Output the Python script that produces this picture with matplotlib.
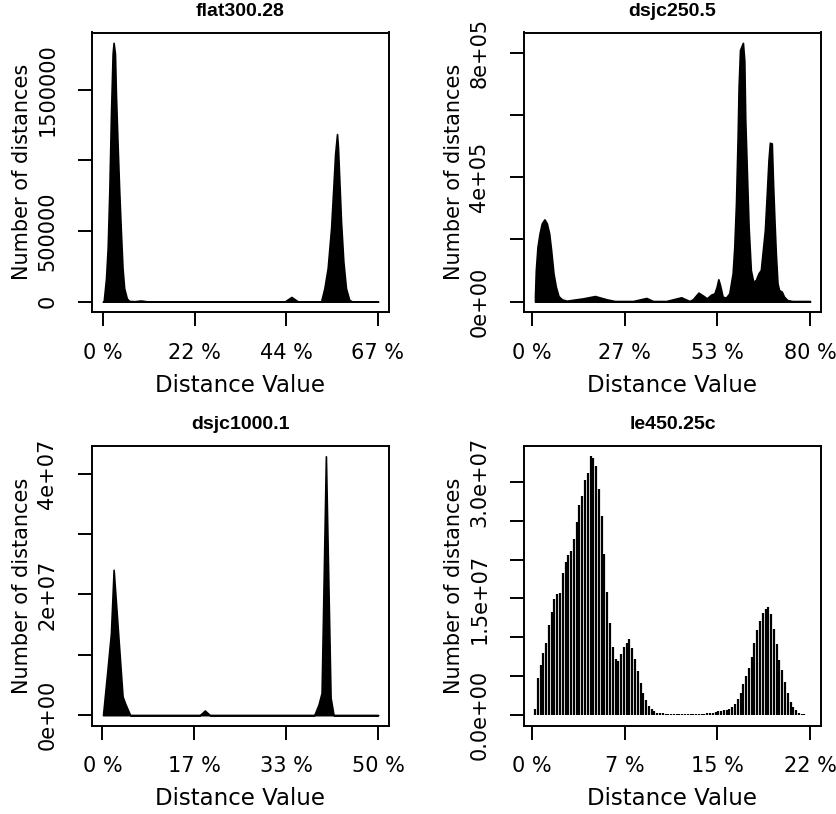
import numpy as np
import matplotlib
matplotlib.use('Agg')
import matplotlib.pyplot as plt

plt.rcParams['font.family'] = 'DejaVu Sans'

# ---- flat300.28 (300 vertices) : distance value -> number of distances
flat_n = 300
flat_d = [0, 0.5, 2.2, 3.4, 4.6, 5.8, 7.0, 7.7, 8.7, 9.4, 10.6, 11.8, 13.0, 14.2,
          15.4, 17.3, 19.0, 23, 27.5, 32, 36, 132, 137, 142, 158.6, 161.0, 163.4,
          165.9, 167.5, 168.8, 169.5, 170.2, 170.9, 171.9, 173.1, 174.8, 176.7,
          179.1, 181.5, 200]
flat_cnt = [0, 0, 166e3, 379e3, 782e3, 1327e3, 1754e3, 1830e3, 1754e3, 1470e3,
            1114e3, 782e3, 498e3, 237e3, 95e3, 23e3, 5e3, 3e3, 8e3, 2e3, 0, 0,
            33e3, 0, 0, 95e3, 237e3, 521e3, 806e3, 1043e3, 1114e3, 1185e3,
            1090e3, 853e3, 569e3, 284e3, 95e3, 12e3, 0, 0]

# ---- dsjc250.5 (250 vertices)
d250_n = 250
d250_d = [2.0, 2.6, 3.8, 5.3, 6.9, 8.8, 10.5, 12.2, 13.6, 15.3, 17.0, 18.9, 21.3,
          24.8, 36.8, 45.2, 53.5, 59.5, 72.6, 82.2, 87.0, 96.5, 107.3, 113.2,
          115.6, 119.7, 122.8, 125.7, 128.8, 131.2, 132.8, 134.0, 135.2, 137.1,
          139.5, 141.9, 144.3, 145.5, 146.7, 147.9, 148.6, 149.6, 150.5, 151.7,
          152.7, 153.4, 154.3, 155.8, 157.4, 159.1, 161.0, 162.9, 164.6, 165.8,
          167.5, 168.9, 170.1, 171.1, 172.5, 173.4, 174.4, 175.4, 176.6, 177.7,
          179.7, 181.3, 183.7, 187.3, 200]
d250_cnt = [20e3, 101.7e3, 176.7e3, 219.6e3, 251.7e3, 264.5e3, 251.7e3, 219.6e3,
            166e3, 91e3, 48e3, 18e3, 7.5e3, 3e3, 10.7e3, 18e3, 7.5e3, 2e3, 2e3,
            11.8e3, 2e3, 2e3, 14e3, 2e3, 7.5e3, 29e3, 20e3, 10.7e3, 22.5e3,
            26.8e3, 48e3, 71.8e3, 53.6e3, 16e3, 12.9e3, 26.8e3, 91e3, 176.7e3,
            316e3, 530e3, 690.8e3, 808.6e3, 819e3, 832e3, 776e3, 583.7e3, 455e3,
            241e3, 101.7e3, 64e3, 69.6e3, 91e3, 101.7e3, 155e3, 230e3, 348e3,
            455e3, 511e3, 508.7e3, 380e3, 262e3, 155e3, 59e3, 37.5e3, 32e3, 16e3,
            5e3, 2e3, 2e3]

# ---- dsjc1000.1 (1000 vertices)
d1000_n = 1000
d1000_d = [1.2, 8.4, 15.6, 20.5, 36.7, 41.5, 50.5, 176.9, 185.9, 195.0, 384.5,
           392.3, 397.7, 405.5, 414.0, 419.4, 500]
d1000_cnt = [0, 6.7e6, 13.6e6, 24.1e6, 3.1e6, 1.9e6, 0, 0, 0.77e6, 0, 0, 1.8e6,
             3.7e6, 42.9e6, 2.9e6, 0, 0]

# ---- le450.25c (450 vertices), one bar per distance 1..100
le_n = 450
le_d = list(range(1, 101))
le_cnt = [0.73, 4.72, 6.40, 7.94, 9.32, 11.59, 13.27, 14.90, 15.54, 15.76,
          18.25, 19.70, 20.65, 21.12, 22.62, 24.77, 27.05, 28.20, 30.27, 31.08,
          33.27, 33.06, 32.07, 29.06, 25.63, 20.78, 15.88, 11.81, 8.76, 7.17,
          6.95, 7.81, 8.76, 9.32, 9.75, 8.67, 7.17, 5.67, 4.08, 2.88,
          1.89, 1.16, 0.73, 0.47, 0.30, 0.25, 0.22, 0.20, 0.18, 0.17,
          0.16, 0.15, 0.14, 0.14, 0.13, 0.13, 0.13, 0.14, 0.15, 0.16,
          0.18, 0.20, 0.22, 0.25, 0.28, 0.39, 0.47, 0.52, 0.60, 0.69,
          0.82, 1.03, 1.46, 2.02, 2.88, 4.04, 5.02, 6.10, 7.47, 9.27,
          10.95, 12.11, 13.18, 13.61, 13.91, 12.96, 11.12, 9.10, 7.13, 5.75,
          4.29, 2.88, 1.72, 1.03, 0.60, 0.30, 0.17, 0.09, 0.04, 0.04]
le_cnt = [v * 1e6 for v in le_cnt]

titles = ['flat300.28', 'dsjc250.5', 'dsjc1000.1', 'le450.25c']
yticks = [[0, 500000, 1000000, 1500000],
          [0, 2e5, 4e5, 6e5, 8e5],
          [0, 1e7, 2e7, 3e7, 4e7],
          [0, 5e6, 1e7, 1.5e7, 2e7, 2.5e7, 3e7]]
ytick_labels = [['0', '500000', '', '1500000'],
                ['0e+00', '', '4e+05', '', '8e+05'],
                ['0e+00', '', '2e+07', '', '4e+07'],
                ['0.0e+00', '', '', '1.5e+07', '', '', '3.0e+07']]

W, H = 837, 814
fig = plt.figure(figsize=(W / 100, H / 100), dpi=100)

# plot boxes in pixels: left, right, top, bottom
boxes = [(92, 389, 32.5, 312), (524, 821, 32.5, 312),
         (92, 389, 446, 725.5), (524, 821, 446, 725.5)]

data = [(flat_n, flat_d, flat_cnt, False),
        (d250_n, d250_d, d250_cnt, False),
        (d1000_n, d1000_d, d1000_cnt, False),
        (le_n, le_d, le_cnt, True)]

for i, (n, d, cnt, bars) in enumerate(data):
    l, r, t, b = boxes[i]
    ax = fig.add_axes([l / W, 1 - b / H, (r - l) / W, (b - t) / H])
    x = np.array(d) / n * 100
    y = np.array(cnt)
    if bars:
        ax.vlines(x, 0, y, color='black', linewidth=1.6)
    else:
        ax.fill_between(x, 0, y, color='black', linewidth=1.2)
    lo, hi = x.min(), x.max()
    pad = 0.04 * (hi - lo)
    ax.set_xlim(lo - pad, hi + pad)
    ymax = y.max()
    ax.set_ylim(-0.04 * ymax, 1.04 * ymax)

    top = max(d) / n * 100
    xt = np.linspace(0, top, 4)
    ax.set_xticks(xt)
    ax.set_xticklabels(['%d %%' % round(v) for v in xt])
    ax.set_yticks(yticks[i])
    ax.set_yticklabels(ytick_labels[i], rotation=90, va='center')

    ax.tick_params(direction='out', length=10, width=1.4, labelsize=15)
    ax.tick_params(axis='x', pad=12)
    ax.tick_params(axis='y', pad=15)
    for s in ax.spines.values():
        s.set_linewidth(1.4)
    ax.set_xlabel('Distance Value', fontsize=16.5, labelpad=8)
    ax.set_ylabel('Number of distances', fontsize=15, labelpad=4)
    ax.set_title(titles[i], fontsize=14, fontweight='bold',
                 family='Liberation Sans', pad=12)

fig.savefig('out.png', dpi=100)
